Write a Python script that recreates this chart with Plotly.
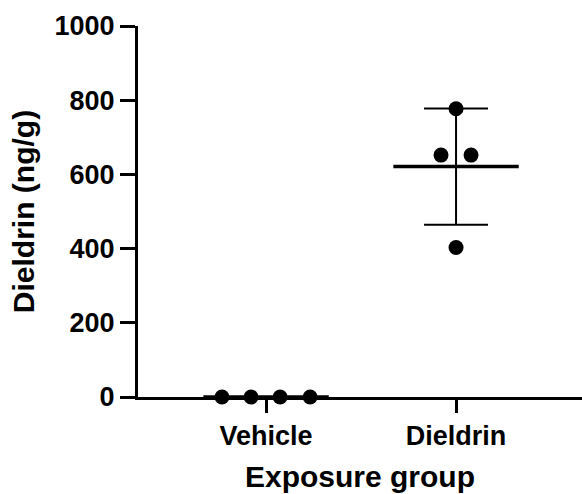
import numpy as np
import plotly.graph_objects as go

categories = ["Vehicle", "Dieldrin"]
vehicle_values = [0, 0, 0, 0]
dieldrin_values = [777, 652, 652, 403]
# horizontal scatter offsets (in category units) used to spread the points
vehicle_offsets = [-0.232, -0.079, 0.074, 0.232]
dieldrin_offsets = [0.0, -0.079, 0.079, 0.0]
y_tick_vals = [0, 200, 400, 600, 800, 1000]

groups = [vehicle_values, dieldrin_values]
offsets = [vehicle_offsets, dieldrin_offsets]

FONT = "Liberation Sans, Arial, sans-serif"
fig = go.Figure()

for i, (vals, offs) in enumerate(zip(groups, offsets)):
    arr = np.array(vals, dtype=float)
    mean = arr.mean()
    sd = arr.std(ddof=1)
    # error bar (mean ± SD)
    fig.add_trace(go.Scatter(
        x=[i], y=[mean], mode="markers",
        marker=dict(size=1, color="rgba(0,0,0,0)"),
        error_y=dict(type="data", array=[sd], visible=True,
                     color="black", thickness=2, width=32),
        showlegend=False, cliponaxis=False, hoverinfo="skip"))
    # mean line
    fig.add_trace(go.Scatter(
        x=[i - 0.33, i + 0.33], y=[mean, mean], mode="lines",
        line=dict(color="black", width=3.5),
        showlegend=False, cliponaxis=False, hoverinfo="skip"))
    # points
    fig.add_trace(go.Scatter(
        x=[i + o for o in offs], y=vals, mode="markers",
        marker=dict(size=15, color="black"),
        showlegend=False, cliponaxis=False))

fig.update_layout(
    width=582, height=494,
    margin=dict(l=138, r=0, t=26, b=97),
    plot_bgcolor="white", paper_bgcolor="white",
    font=dict(family=FONT, color="black", size=27, weight=700),
    xaxis=dict(
        range=[-0.674, 1.663],
        tickvals=[0, 1], ticktext=categories,
        showline=True, linecolor="black", linewidth=3,
        ticks="outside", ticklen=13, tickwidth=3, tickcolor="black",
        showgrid=False, zeroline=False, automargin=False,
        tickfont=dict(family=FONT, size=27, weight=700),
        title=dict(text="Exposure group", font=dict(family=FONT, size=30, weight=700), standoff=16),
    ),
    yaxis=dict(
        range=[0, 1000],
        tickvals=y_tick_vals,
        showline=True, linecolor="black", linewidth=3,
        ticks="outside", ticklen=15, tickwidth=3, tickcolor="black",
        showgrid=False, zeroline=False, automargin=False,
        tickfont=dict(family=FONT, size=27, weight=700),
        title=dict(text="Dieldrin (ng/g)", font=dict(family=FONT, size=30, weight=700), standoff=12),
    ),
)

fig.write_html("out.html", config={"displayModeBar": False},
               post_script="document.body.style.margin='0';")
